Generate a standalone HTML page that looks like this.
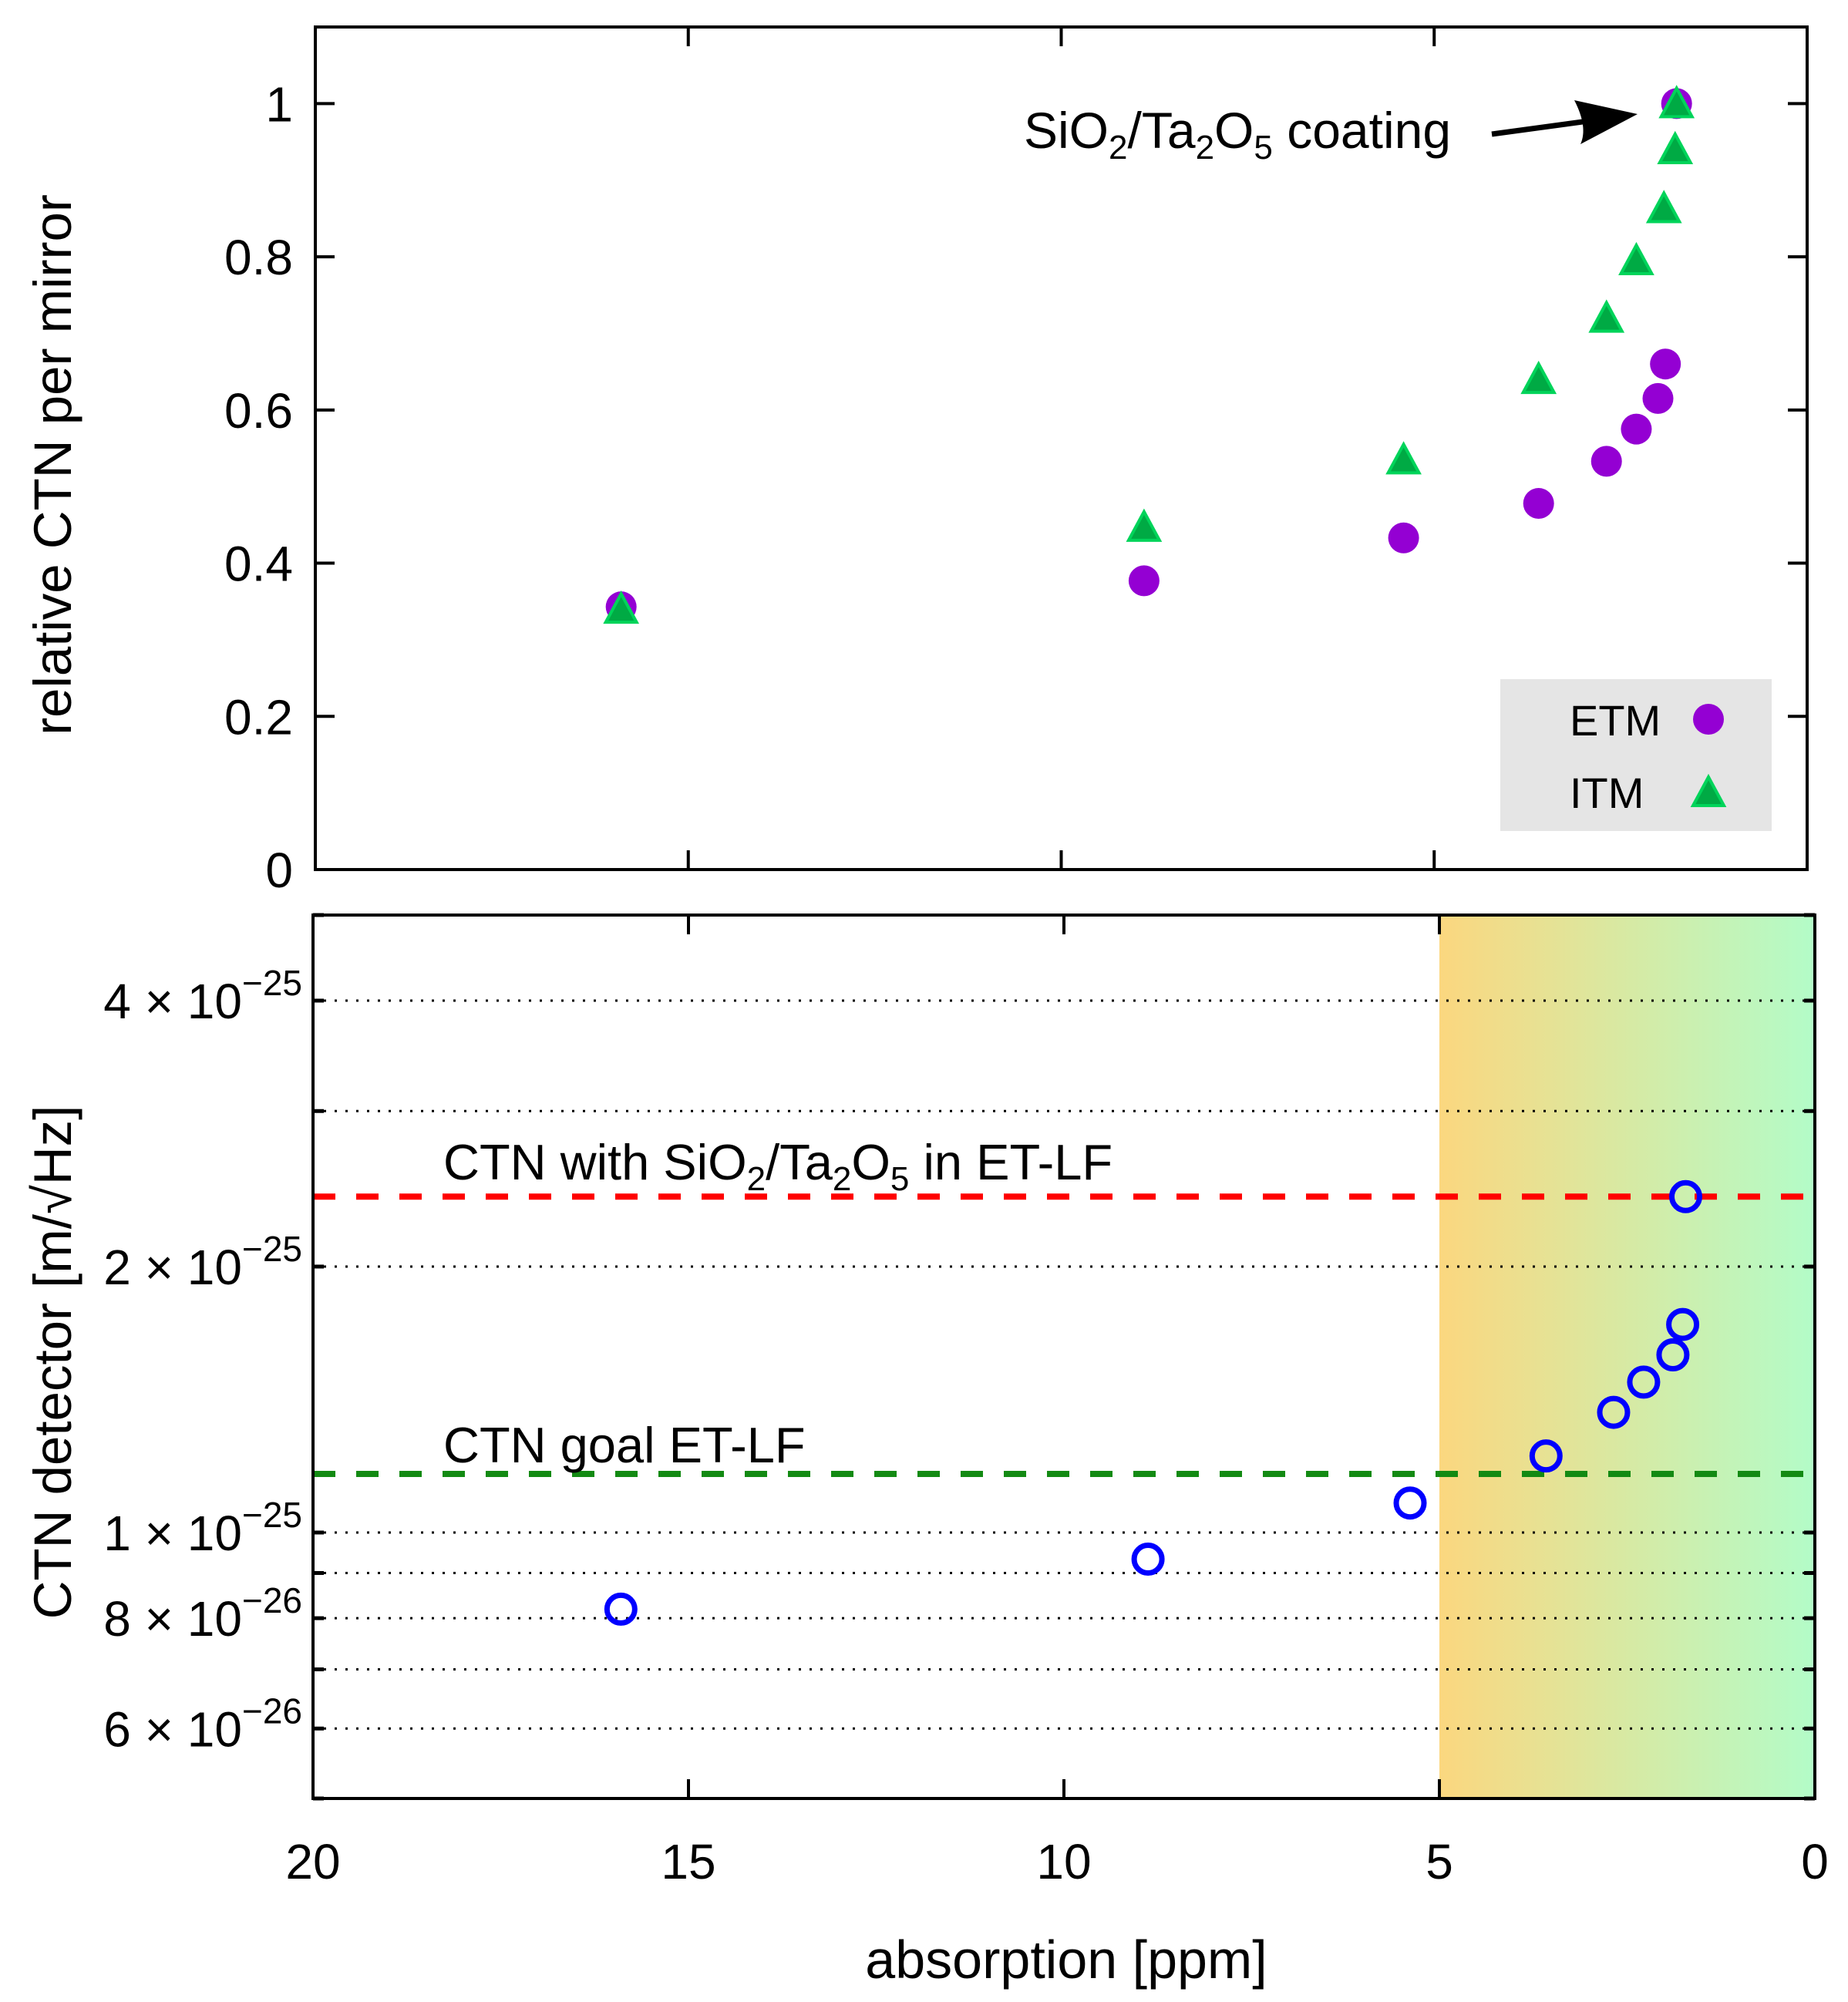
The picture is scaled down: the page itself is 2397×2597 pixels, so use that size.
<!DOCTYPE html>
<html><head><meta charset="utf-8"><style>
html,body{margin:0;padding:0;background:#fff}
svg{display:block}
text{font-family:"Liberation Sans",sans-serif;fill:#000}
</style></head><body>
<svg id="chart" width="2397" height="2597" viewBox="0 0 2397 2597" xmlns="http://www.w3.org/2000/svg">
<defs>
<linearGradient id="grad" x1="0" x2="1" y1="0" y2="0">
<stop offset="0" stop-color="#fbd77f"/><stop offset="1" stop-color="#b3fcc8"/>
</linearGradient>
</defs>
<g id="upper"></g>
<g id="lower"></g>
</svg>
<script>
// Data
const etmX = [15.9, 8.89, 5.41, 3.6, 2.69, 2.29, 2.0, 1.9, 1.75];
const etmY = [0.343, 0.377, 0.433, 0.478, 0.533, 0.575, 0.615, 0.66, 1.0];
const itmX = [15.9, 8.89, 5.41, 3.6, 2.69, 2.29, 1.92, 1.77, 1.75];
const itmY = [0.34, 0.447, 0.535, 0.64, 0.72, 0.795, 0.863, 0.94, 1.0];
const detX = [15.9, 8.88, 5.39, 3.58, 2.68, 2.28, 1.89, 1.76, 1.72];
const detY = [8.19e-26, 9.33e-26, 1.08e-25, 1.221e-25, 1.368e-25, 1.48e-25, 1.589e-25, 1.72e-25, 2.40e-25];
const redLevel = [2.40e-25];
const greenLevel = [1.165e-25];
const upperYTicks = [0, 0.2, 0.4, 0.6, 0.8, 1];
const upperYLabels = ["0", "0.2", "0.4", "0.6", "0.8", "1"];
const xTicks = [20, 15, 10, 5, 0];
const xTickLabels = ["20", "15", "10", "5", "0"];
const lowerGrid = [5e-25, 4e-25, 3e-25, 2e-25, 1e-25, 9e-26, 8e-26, 7e-26, 6e-26, 5e-26];
const lowerLabelVals = [4e-25, 2e-25, 1e-25, 8e-26, 6e-26];
const lowerLabelMant = ["4", "2", "1", "8", "6"];
const lowerLabelExp = ["−25", "−25", "−25", "−26", "−26"];

const NS = "http://www.w3.org/2000/svg";
const U = {l:409, r:2344, t:35, b:1128};
const L = {l:406, r:2354, t:1187, b:2333};
const xu = v => U.l + (20 - v) / 20 * (U.r - U.l);
const yu = v => U.b - v / 1.1 * (U.b - U.t);
const xl = v => L.l + (20 - v) / 20 * (L.r - L.l);
const yl = v => L.b - (Math.log10(v) - Math.log10(5e-26)) / 1 * (L.b - L.t);

function mk(parent, tag, attrs, txt) {
  const e = document.createElementNS(NS, tag);
  for (const k in attrs) e.setAttribute(k, attrs[k]);
  if (txt !== undefined) e.textContent = txt;
  parent.appendChild(e);
  return e;
}
const up = document.getElementById('upper');
const lo = document.getElementById('lower');

// ===== Upper panel =====
let lg = mk(up, 'rect', {x:1946, y:881, width:352, height:197, fill:'#e5e5e5'});



upperYTicks.forEach((v, i) => {
  let t = mk(up, 'path', {d:`M${U.l},${yu(v)}h25M${U.r},${yu(v)}h-25`, stroke:'#000', 'stroke-width':4});
  
  
  let lb = mk(up, 'text', {x:380, y:yu(v) + 23, 'font-size':64, 'text-anchor':'end'}, upperYLabels[i]);
  
  
});
xTicks.forEach(v => {
  let t = mk(up, 'path', {d:`M${xu(v)},${U.b}v-25M${xu(v)},${U.t}v25`, stroke:'#000', 'stroke-width':4});
  
  
});

etmX.forEach((x, i) => {
  let c = mk(up, 'circle', {cx:xu(x), cy:yu(etmY[i]), r:20, fill:'#9400d3'});
  
  
});
function tri(parent, cx, cy) {
  const s = 20;
  return mk(parent, 'path', {d:`M${cx},${cy - s}L${cx + s},${cy + s * 0.85}L${cx - s},${cy + s * 0.85}Z`, fill:'#00aa44', stroke:'#00d45a', 'stroke-width':4});
}
itmX.forEach((x, i) => {
  let t = tri(up, xu(x), yu(itmY[i]));
  
  
});

let b1 = mk(up, 'rect', {x:U.l, y:U.t, width:U.r - U.l, height:U.b - U.t, fill:'none', stroke:'#000', 'stroke-width':4});



let le1 = mk(up, 'text', {x:2036, y:954, 'font-size':56}, 'ETM');


let lm1 = mk(up, 'circle', {cx:2216, cy:933, r:20, fill:'#9400d3'});


let le2 = mk(up, 'text', {x:2036, y:1048, 'font-size':56}, 'ITM');


let lm2 = tri(up, 2216, 1028);



let ann = mk(up, 'text', {x:1328, y:192, 'font-size':66});
ann.innerHTML = 'SiO<tspan font-size="44" dy="14">2</tspan><tspan dy="-14">/Ta</tspan><tspan font-size="44" dy="14">2</tspan><tspan dy="-14">O</tspan><tspan font-size="44" dy="14">5</tspan><tspan dy="-14"> coating</tspan>';


let arr = mk(up, 'path', {d:'M1935,174L2060,157', stroke:'#000', 'stroke-width':7});


let ah = mk(up, 'path', {d:'M2124,148L2050,187Q2060,165 2042,130Z', fill:'#000'});



let yt1 = mk(up, 'text', {x:0, y:0, 'font-size':69, 'text-anchor':'middle', transform:'translate(92,603) rotate(-90)'}, 'relative CTN per mirror');



// ===== Lower panel =====
let bg = mk(lo, 'rect', {x:xl(5), y:L.t, width:L.r - xl(5), height:L.b - L.t, fill:'url(#grad)'});



lowerGrid.forEach(v => {
  let g = mk(lo, 'line', {x1:L.l, x2:L.r, y1:yl(v), y2:yl(v), stroke:'#000', 'stroke-width':3, 'stroke-dasharray':'3 11'});
  
  
  let t = mk(lo, 'path', {d:`M${L.l},${yl(v)}h14M${L.r},${yl(v)}h-14`, stroke:'#000', 'stroke-width':5});
  
  
});
lowerLabelVals.forEach((v, i) => {
  let lb = mk(lo, 'text', {x:392, y:yl(v) + 23, 'font-size':64, 'text-anchor':'end'});
  lb.innerHTML = lowerLabelMant[i] + ' × 10<tspan font-size="46" dy="-30">' + lowerLabelExp[i] + '</tspan>';
  
  
});
xTicks.forEach((v, i) => {
  let t = mk(lo, 'path', {d:`M${xl(v)},${L.b}v-25M${xl(v)},${L.t}v25`, stroke:'#000', 'stroke-width':4});
  
  
  let lb = mk(lo, 'text', {x:xl(v), y:2437, 'font-size':64, 'text-anchor':'middle'}, xTickLabels[i]);
  
  
});

let rl = mk(lo, 'line', {x1:L.l, x2:2360, y1:yl(redLevel[0]), y2:yl(redLevel[0]), stroke:'#ff0000', 'stroke-width':8, 'stroke-dasharray':'29 27'});


let gl = mk(lo, 'line', {x1:L.l, x2:2360, y1:yl(greenLevel[0]), y2:yl(greenLevel[0]), stroke:'#138a13', 'stroke-width':8, 'stroke-dasharray':'29 27'});



detX.forEach((x, i) => {
  let c = mk(lo, 'circle', {cx:xl(x), cy:yl(detY[i]), r:18, fill:'none', stroke:'#0000ff', 'stroke-width':7});
  
  
});

let b2 = mk(lo, 'rect', {x:L.l, y:L.t, width:L.r - L.l, height:L.b - L.t, fill:'none', stroke:'#000', 'stroke-width':4});



let t1 = mk(lo, 'text', {x:575, y:1530, 'font-size':65});
t1.innerHTML = 'CTN with SiO<tspan font-size="44" dy="14">2</tspan><tspan dy="-14">/Ta</tspan><tspan font-size="44" dy="14">2</tspan><tspan dy="-14">O</tspan><tspan font-size="44" dy="14">5</tspan><tspan dy="-14"> in ET-LF</tspan>';


let t2 = mk(lo, 'text', {x:575, y:1897, 'font-size':65}, 'CTN goal ET-LF');



let yt2 = mk(lo, 'text', {x:0, y:0, 'font-size':69, 'text-anchor':'middle', transform:'translate(92,1767) rotate(-90)'}, 'CTN detector [m/√Hz]');


let xt = mk(lo, 'text', {x:1383, y:2566, 'font-size':70, 'text-anchor':'middle'}, 'absorption [ppm]');


</script>
</body></html>
